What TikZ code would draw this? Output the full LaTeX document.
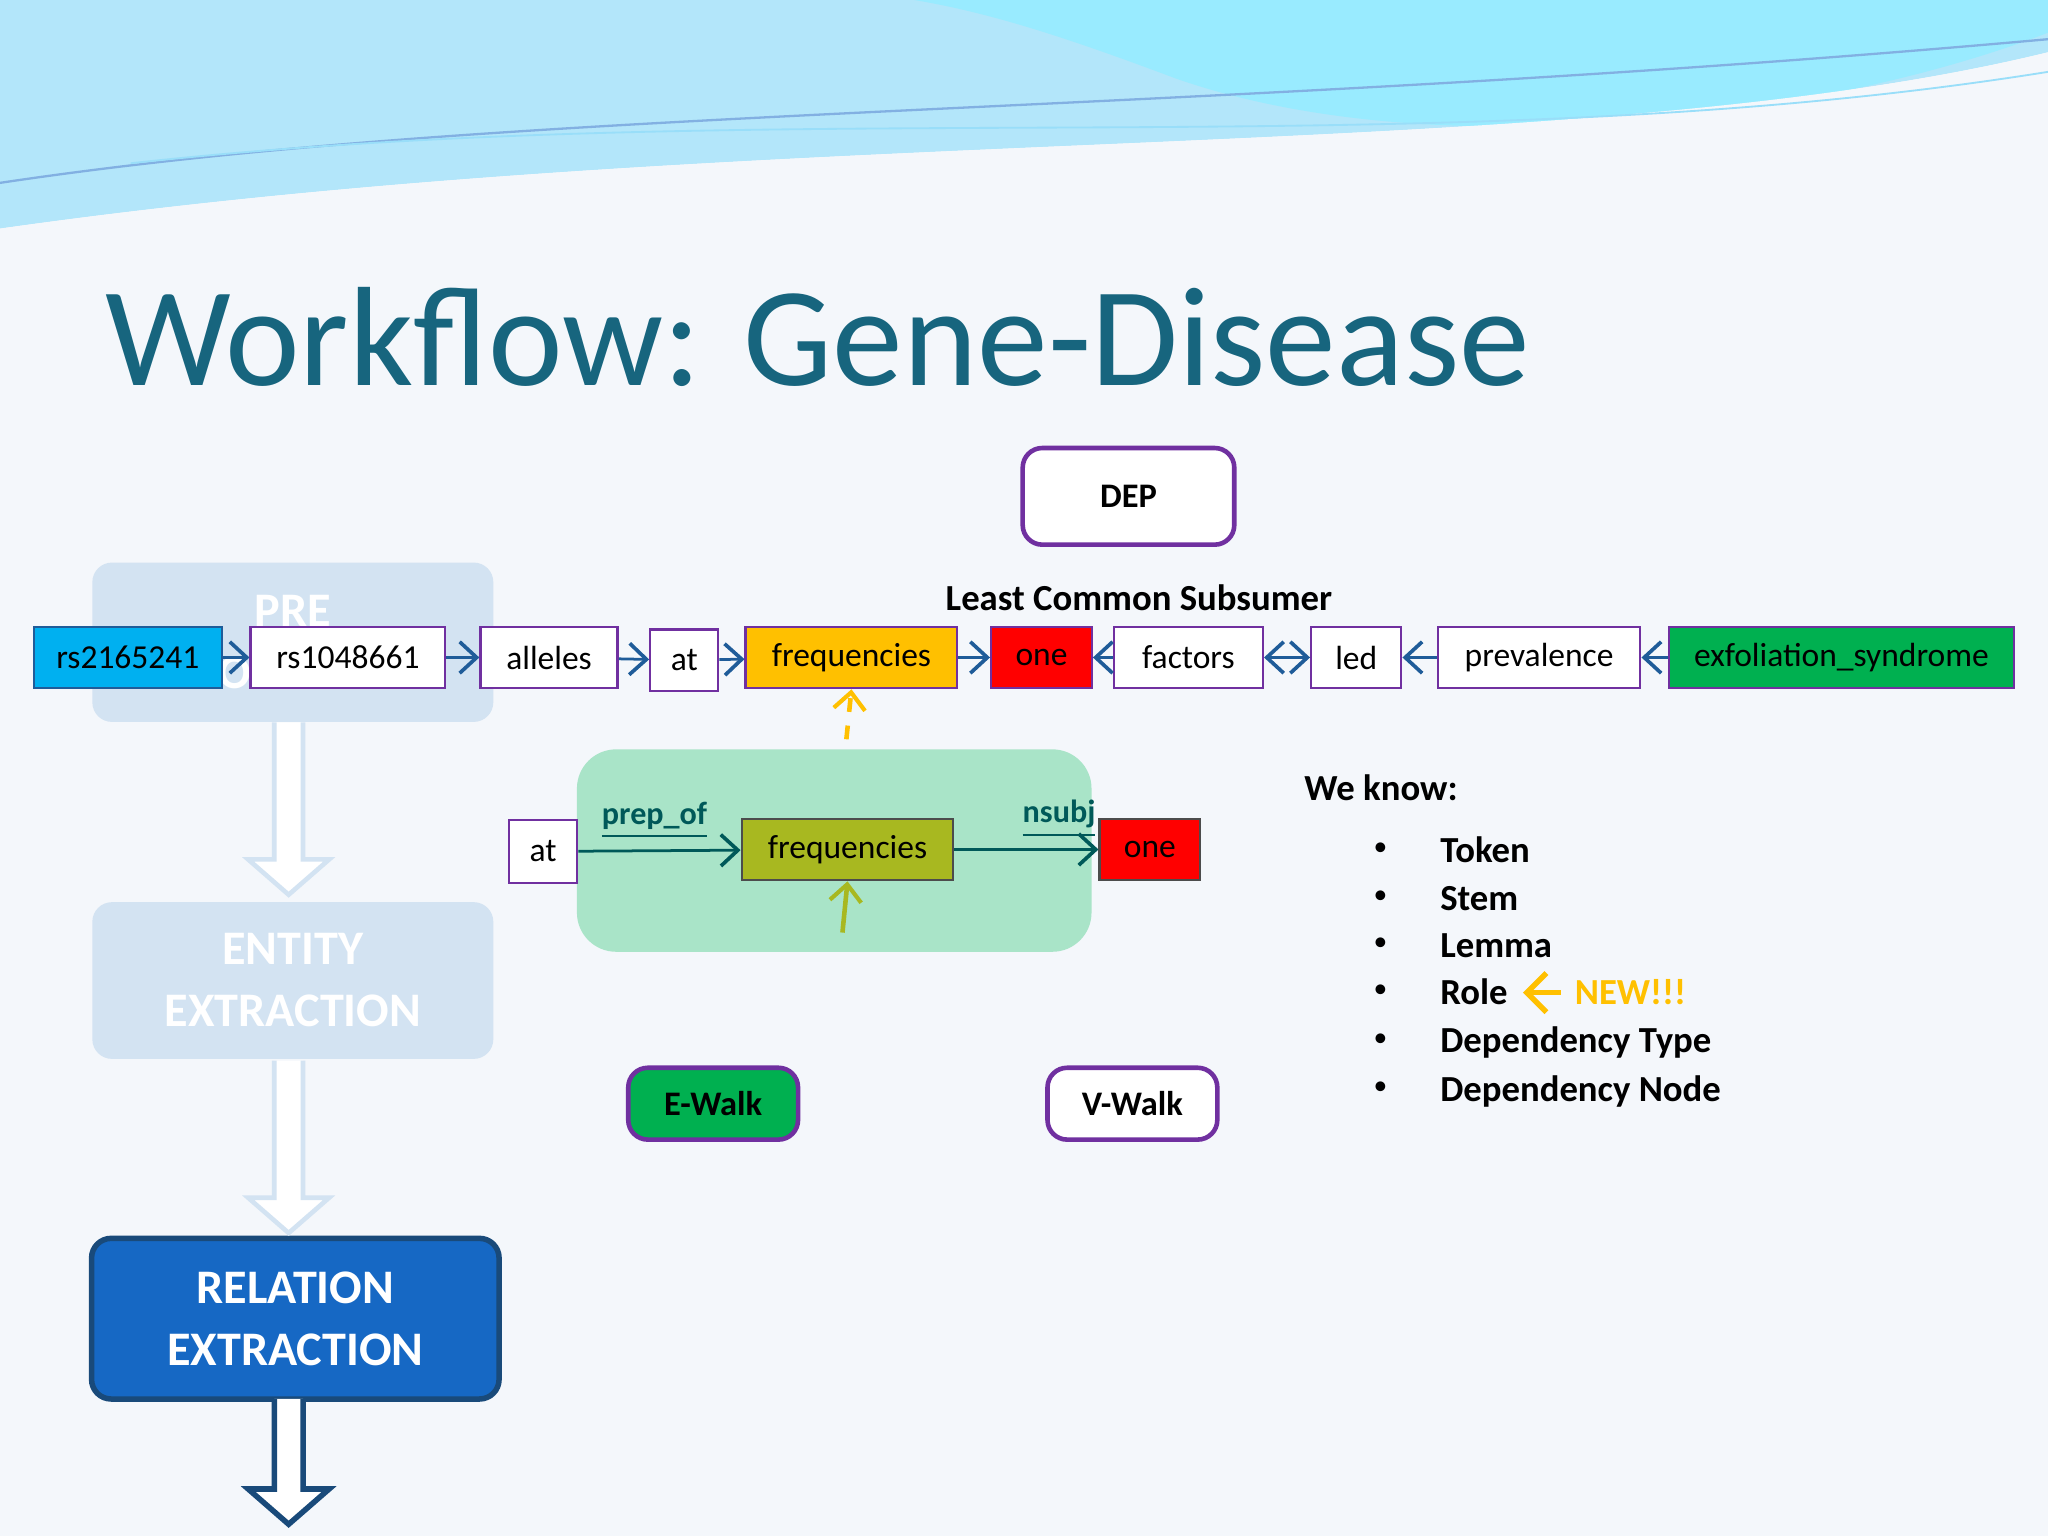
\documentclass[tikz,border=0pt]{standalone}
\usepackage{fontspec}
\setmainfont{Carlito}
\usetikzlibrary{arrows.meta}
\definecolor{bg}{HTML}{F4F7FB}
\definecolor{ttl}{HTML}{17657E}
\definecolor{pur}{HTML}{7030A0}
\definecolor{arr}{HTML}{1F5C99}
\definecolor{cyanb}{HTML}{00B0F0}
\definecolor{orng}{HTML}{FFC000}
\definecolor{grn}{HTML}{00B050}
\definecolor{olive}{HTML}{A8B820}
\definecolor{mint}{HTML}{A9E4C8}
\definecolor{relb}{HTML}{1668C4}
\definecolor{fade}{HTML}{D3E3F2}
\begin{document}
\begin{tikzpicture}[x=0.1mm,y=-0.1mm,
  tok/.style={draw=pur,line width=0.5pt,fill=white,minimum height=47*0.1mm,inner sep=0pt,anchor=north west,font=\fontsize{7.3}{8}\selectfont},
  lk/.style={draw=arr,line width=0.6pt,-{Straight Barb[length=1.3mm,width=2.4mm,line width=0.8pt]}},
  big/.style={rounded corners=1.5mm,draw=pur,line width=1pt,fill=white,inner sep=0pt,font=\bfseries\fontsize{7.5}{8}\selectfont},
  hol/.style={draw=fade,fill=white,line width=1pt},
  stage/.style={rounded corners=1.5mm,fill=fade,text=white,font=\bfseries\fontsize{10.5}{13.5}\selectfont,align=center,inner sep=0pt}]
\useasboundingbox (0,0) rectangle (1568,1176);
\fill[bg] (0,0) rectangle (1568,1176);
% top waves
\fill[cyan!30!white] (0,0) -- (1568,0) -- (1568,40) .. controls (1200,130) and (600,90) .. (0,175) -- cycle;
\fill[blue!20!cyan!40!white] (700,0) -- (1568,0) -- (1568,25) .. controls (1400,90) and (1100,130) .. (900,60) .. controls (820,30) and (760,10) .. (700,0) -- cycle;
\fill[bg] (0,175) .. controls (600,90) and (1200,130) .. (1568,40) -- (1568,80) .. controls (1200,120) and (600,100) .. (0,190) -- cycle;
\draw[cyan!60!blue!50,line width=0.5pt] (0,140) .. controls (400,80) and (900,90) .. (1568,30);
\draw[cyan!40,line width=0.4pt] (100,125) .. controls (600,70) and (1100,130) .. (1568,55);
% title
\node[anchor=base west,text=ttl,font=\fontsize{30.8}{34}\selectfont,inner sep=0pt] (title) at (80,295) {Workflow: Gene-Disease};
% left stages
\node[stage,minimum width=307*0.1mm,minimum height=122*0.1mm,anchor=north west] (pre) at (70,430) {PRE\\PROCESSING};
\node[stage,minimum width=307*0.1mm,minimum height=120*0.1mm,anchor=north west] (ent) at (70,690) {ENTITY\\EXTRACTION};
\node[stage,fill=relb,draw=arr!80!black,line width=1.2pt,minimum width=312*0.1mm,minimum height=123*0.1mm,anchor=north west] (rel) at (68,946) {RELATION\\EXTRACTION};
\draw[hol] (210,553) -- (210,658) -- (190,658) -- (221,685) -- (252,658) -- (232,658) -- (232,553);
\draw[hol] (210,812) -- (210,917) -- (190,917) -- (221,944) -- (252,917) -- (232,917) -- (232,812);
\draw[draw=arr!80!black,fill=white,line width=1.2pt] (210,1071) -- (210,1140) -- (190,1140) -- (221,1167) -- (252,1140) -- (232,1140) -- (232,1071);
% DEP
\node[big,minimum width=162*0.1mm,minimum height=74*0.1mm] (dep) at (864,380) {DEP};
\node[font=\bfseries\fontsize{8}{9}\selectfont] (lcs) at (872,458) {Least Common Subsumer};
% tokens
\node[tok,draw=arr,fill=cyanb,minimum width=144*0.1mm] (t1) at (25,479) {rs2165241};
\node[tok,minimum width=149*0.1mm] (t2) at (191,479) {rs1048661};
\node[tok,minimum width=105*0.1mm] (t3) at (367,479) {alleles};
\node[tok,minimum width=52*0.1mm] (t4) at (497,481) {at};
\node[tok,fill=orng,minimum width=162*0.1mm] (t5) at (570,479) {frequencies};
\node[tok,fill=red,minimum width=77*0.1mm] (t6) at (758,479) {one};
\node[tok,minimum width=114*0.1mm] (t7) at (852,479) {factors};
\node[tok,minimum width=69*0.1mm] (t8) at (1003,479) {led};
\node[tok,minimum width=155*0.1mm] (t9) at (1100,479) {prevalence};
\node[tok,fill=grn,minimum width=264*0.1mm] (t10) at (1277,479) {exfoliation\_syndrome};
\draw[lk] (t1) -- (t2);
\draw[lk] (t2) -- (t3);
\draw[lk] (t3) -- (t4);
\draw[lk] (t4) -- (t5);
\draw[lk] (t5) -- (t6);
\draw[lk] (t7) -- (t6);
\draw[draw=arr,line width=0.6pt,{Straight Barb[length=1.3mm,width=2.4mm,line width=0.8pt]}-{Straight Barb[length=1.3mm,width=2.4mm,line width=0.8pt]}] (t7) -- (t8);
\draw[lk] (t9) -- (t8);
\draw[lk] (t10) -- (t9);
% yellow arrow
\coordinate (ya) at (648,566);
\draw[orng,line width=1pt,dashed,-{Straight Barb[length=1.3mm,width=2.4mm,line width=0.9pt]}] (ya) -- (t5.south);
% green panel
\node[fill=mint,rounded corners=3mm,minimum width=394*0.1mm,minimum height=155*0.1mm,anchor=north west,inner sep=0pt] (panel) at (441,573) {};
\node[tok,minimum width=52*0.1mm,minimum height=48*0.1mm] (b1) at (389,627) {at};
\node[tok,draw=gray!60!black,fill=olive,minimum width=162*0.1mm] (b2) at (567,626) {frequencies};
\node[tok,draw=gray!60!black,fill=red,minimum width=77*0.1mm] (b3) at (841,626) {one};
\draw[draw=teal!70!black,line width=0.6pt,-{Straight Barb[length=1.3mm,width=2.4mm,line width=0.8pt]}] (b1) -- (b2) node[pos=0.47,above=-1pt,text=teal!70!black,font=\bfseries\fontsize{7}{8}\selectfont]{\underline{prep\_of}};
\draw[draw=teal!70!black,line width=0.6pt,-{Straight Barb[length=1.3mm,width=2.4mm,line width=0.8pt]}] (b2) -- (b3) node[pos=0.5,above=-1pt,xshift=2.5mm,text=teal!70!black,font=\bfseries\fontsize{7}{8}\selectfont]{\underline{nsubj}};
\coordinate (oa) at (645,714);
\draw[olive,line width=1pt,-{Straight Barb[length=1.3mm,width=2.4mm,line width=0.9pt]}] (oa) -- (b2.south);
% walks
\node[big,fill=grn,minimum width=130*0.1mm,minimum height=55*0.1mm] (ew) at (546,845) {E-Walk};
\node[big,minimum width=130*0.1mm,minimum height=55*0.1mm] (vw) at (867,845) {V-Walk};
% We know
\node[anchor=base west,font=\bfseries\fontsize{8}{9}\selectfont,inner sep=0pt] (wk) at (998,613) {We know:};
\foreach \y/\t [count=\i] in {660/Token,697/Stem,733/Lemma,769/Role,806/Dependency Type,843/Dependency Node}{
  \node[anchor=base,font=\fontsize{6}{8}\selectfont,inner sep=0pt] (bu\i) at (1057,\y-5) {\textbullet};
  \node[anchor=base west,font=\bfseries\fontsize{8}{9}\selectfont,inner sep=0pt] (it\i) at (1102,\y) {\t};
}
\node[anchor=base west,text=orng,font=\bfseries\fontsize{8}{9}\selectfont,inner sep=0pt] (new) at (1205,769) {NEW!!!};
\coordinate (na) at (1195,760);
\coordinate (nb) at (1166,760);
\draw[orng,line width=1.2pt,-{Straight Barb[length=1.5mm,width=3mm,line width=1.2pt]}] (na) -- (nb);
\end{tikzpicture}
\end{document}
